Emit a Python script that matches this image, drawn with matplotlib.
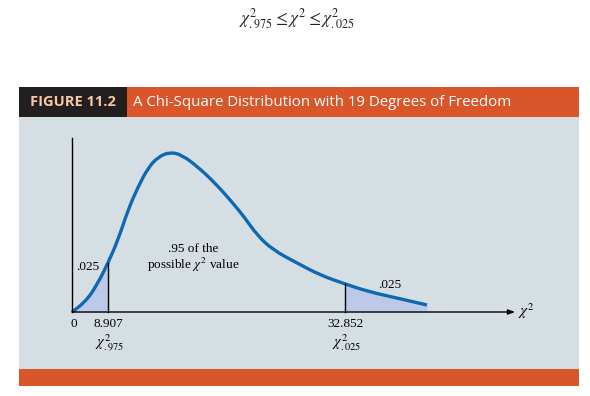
import matplotlib.pyplot as plt
from matplotlib.patches import Rectangle, PathPatch
from matplotlib.path import Path

plt.rcParams['mathtext.fontset'] = 'stix'

# curve (x: units right of origin, y: height above axis)
curve_x = [0, 13, 26, 36, 46, 56, 66, 76, 86, 98, 110, 126, 143, 160, 173,
           185, 201, 225, 248, 273, 298, 325, 355]
curve_y = [0, 9, 29, 49, 72, 102, 125, 144, 155, 160, 157, 145, 129, 110, 94,
           77, 62, 49, 37, 28, 20, 14, 7]

crit_pos = [36, 273]
crit_labels = ["8.907", "32.852"]
crit_names = [r"$\chi^2_{.975}$", r"$\chi^2_{.025}$"]
tail_labels = [".025", ".025"]

W, H = 590, 396
BG = "#d5dfe3"
ORANGE = "#d9552a"
DARK = "#231f20"
BLUE = "#0f68b2"
FILL = "#bcc9e8"

fig = plt.figure(figsize=(W / 100, H / 100), dpi=100)


def px(x, y, w, h):
    # pixel box (top-left origin) -> figure fraction
    return (x / W, 1 - (y + h) / H), w / W, h / H


for (x, y, w, h), col in [((19, 117, 560, 252), BG),
                          ((19, 369, 560, 17), ORANGE),
                          ((19, 87, 560, 30), ORANGE),
                          ((19, 87, 108, 30), DARK)]:
    xy, ww, hh = px(x, y, w, h)
    fig.add_artist(Rectangle(xy, ww, hh, transform=fig.transFigure,
                             facecolor=col, edgecolor="none", zorder=0))

fig.text(30 / W, 1 - 102 / H, "FIGURE 11.2", color="#f7c9a6", fontsize=10.5,
         fontweight="bold", family="Open Sans", va="center", ha="left")
fig.text(133 / W, 1 - 102 / H, "A Chi-Square Distribution with 19 Degrees of Freedom",
         color="white", fontsize=10.8, family="Open Sans", va="center", ha="left")
fig.text(297 / W, 1 - 19 / H, r"$\chi^2_{.975} \leq \chi^2 \leq \chi^2_{.025}$",
         fontsize=12.5, ha="center", va="center", color="#222222")

# main drawing: one data unit = one pixel
ax = fig.add_axes([0, 0, 1, 1])
ax.set_xlim(-72, W - 72)
ax.set_ylim(312 - H, 312)
ax.axis("off")
ax.patch.set_alpha(0)

# axes
ax.plot([0, 0], [0, 174], color="black", lw=1)
ax.annotate("", xy=(443, 0), xytext=(0, 0),
            arrowprops=dict(arrowstyle="-|>,head_length=0.4,head_width=0.15",
                            color="black", lw=1, shrinkA=0, shrinkB=0))
ax.text(446, 1, r"$\chi^2$", fontsize=11, ha="left", va="center")

# shaded tails
ax.fill_between(curve_x, curve_y, 0, where=[x <= crit_pos[0] for x in curve_x],
                color=FILL, lw=0)
ax.fill_between(curve_x, curve_y, 0, where=[x >= crit_pos[1] for x in curve_x],
                color=FILL, lw=0)
for c in crit_pos:
    h = curve_y[curve_x.index(c)]
    ax.plot([c, c], [0, h], color="black", lw=1)

# smooth stroke: read points act as quadratic control points
pts = list(zip(curve_x, curve_y))
verts = [pts[0]]
codes = [Path.MOVETO]
for i in range(1, len(pts) - 1):
    mid = ((pts[i][0] + pts[i + 1][0]) / 2, (pts[i][1] + pts[i + 1][1]) / 2)
    if i == len(pts) - 2:
        mid = pts[-1]
    verts += [pts[i], mid]
    codes += [Path.CURVE3, Path.CURVE3]
ax.add_patch(PathPatch(Path(verts, codes), facecolor="none", edgecolor=BLUE,
                       lw=2.4, capstyle="butt", joinstyle="round"))

serif = "Liberation Serif"
ax.text(2, -12, "0", fontsize=9.5, family=serif, ha="center", va="center")
for c, lab, nm in zip(crit_pos, crit_labels, crit_names):
    ax.text(c, -12, lab, fontsize=9.5, family=serif, ha="center", va="center")
    ax.text(c + 2, -31, nm, fontsize=10.5, ha="center", va="center")

ax.text(4, 45, tail_labels[0], fontsize=9.5, family=serif, ha="left", va="center")
ax.text(318, 27, tail_labels[1], fontsize=9.5, family=serif, ha="center", va="center")
ax.text(121, 63, ".95 of the", fontsize=9.5, family=serif, ha="center", va="center")
ax.text(121, 47, r"possible $\chi^2$ value", fontsize=9.5, family=serif,
        ha="center", va="center")

fig.savefig("out.png", dpi=100)
